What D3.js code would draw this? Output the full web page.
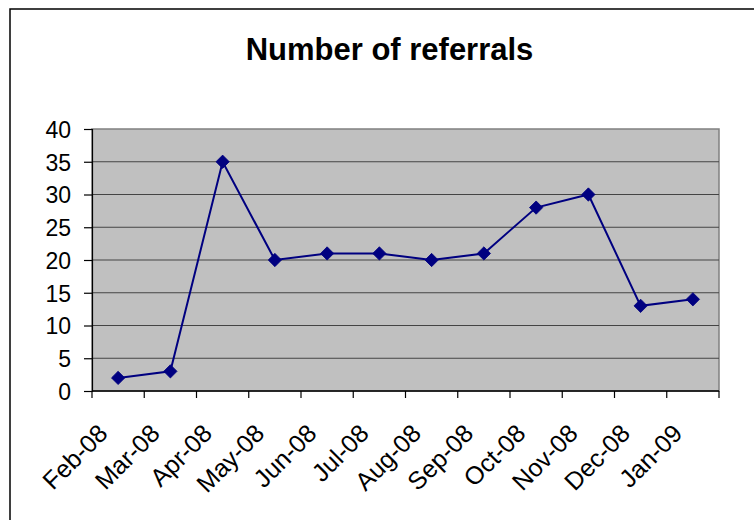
<!DOCTYPE html>
<html><head><meta charset="utf-8">
<script src="https://cdn.jsdelivr.net/npm/d3@7"></script>
<style>html,body{margin:0;padding:0;background:#fff;}svg{display:block;font-family:"Liberation Sans",Arial,sans-serif;}</style>
</head><body>
<svg id="c" width="754" height="520"></svg>
<script>
const categories = ["Feb-08","Mar-08","Apr-08","May-08","Jun-08","Jul-08","Aug-08","Sep-08","Oct-08","Nov-08","Dec-08","Jan-09"];
const referrals = [2,3,35,20,21,21,20,21,28,30,13,14];
const yTicks = [0,5,10,15,20,25,30,35,40];
const title = "Number of referrals";

const svg = d3.select("#c");
const L=92, R=719, T=129, B=391;

// outer chart frame (extends beyond the view)
svg.append("rect").attr("x",10).attr("y",9).attr("width",800).attr("height",600)
  .attr("fill","#fff").attr("stroke","#000").attr("stroke-width",1.5);

svg.append("text").attr("x",389.5).attr("y",60).attr("text-anchor","middle")
  .attr("font-size",31).attr("font-weight","bold").text(title);

const x = d3.scaleBand().domain(categories).range([L,R]).padding(0);
const y = d3.scaleLinear().domain([0,40]).range([B,T]);

svg.append("rect").attr("x",L).attr("y",T).attr("width",R-L).attr("height",B-T)
  .attr("fill","#C0C0C0").attr("stroke","#808080").attr("stroke-width",1.5);

svg.append("g").selectAll("line").data(yTicks.filter(d=>d>0&&d<40)).join("line")
  .attr("x1",L).attr("x2",R).attr("y1",d=>y(d)).attr("y2",d=>y(d))
  .attr("stroke","#444").attr("stroke-width",1.2);

// y axis
const ya = svg.append("g").attr("transform",`translate(${L},0)`)
  .call(d3.axisLeft(y).tickValues(yTicks).tickSize(8).tickPadding(13));
ya.select(".domain").attr("stroke","#000").attr("stroke-width",1.2);
ya.selectAll(".tick line").attr("stroke","#000").attr("stroke-width",1.2);
ya.selectAll("text").attr("font-size",23).attr("fill","#000").attr("font-family","Liberation Sans, Arial, sans-serif").attr("dy","0.36em");

// x axis with ticks between categories
const xa = svg.append("g").attr("transform",`translate(0,${B})`);
xa.append("line").attr("x1",L).attr("x2",R).attr("stroke","#000").attr("stroke-width",1.5);
const bounds = categories.map(c=>x(c)).concat([x(categories[categories.length-1])+x.bandwidth()]);
xa.selectAll("line.t").data(bounds).join("line").attr("class","t")
  .attr("x1",d=>d).attr("x2",d=>d).attr("y1",0).attr("y2",7).attr("stroke","#000").attr("stroke-width",1.2);
xa.selectAll("text").data(categories).join("text")
  .attr("text-anchor","end").attr("font-size",25)
  .attr("transform",d=>`translate(${x(d)+x.bandwidth()/2-9},${44}) rotate(-45)`)
  .text(d=>d);

// line
const line = d3.line().x((d,i)=>x(categories[i])+x.bandwidth()/2).y(d=>y(d));
svg.append("path").datum(referrals).attr("d",line).attr("fill","none")
  .attr("stroke","#000080").attr("stroke-width",2);
svg.append("g").selectAll("path").data(referrals).join("path")
  .attr("d",d3.symbol(d3.symbolSquare,88))
  .attr("transform",(d,i)=>`translate(${x(categories[i])+x.bandwidth()/2},${y(d)}) rotate(45)`)
  .attr("fill","#000080").attr("stroke","#000080").attr("stroke-width",0.8);
</script>
</body></html>
